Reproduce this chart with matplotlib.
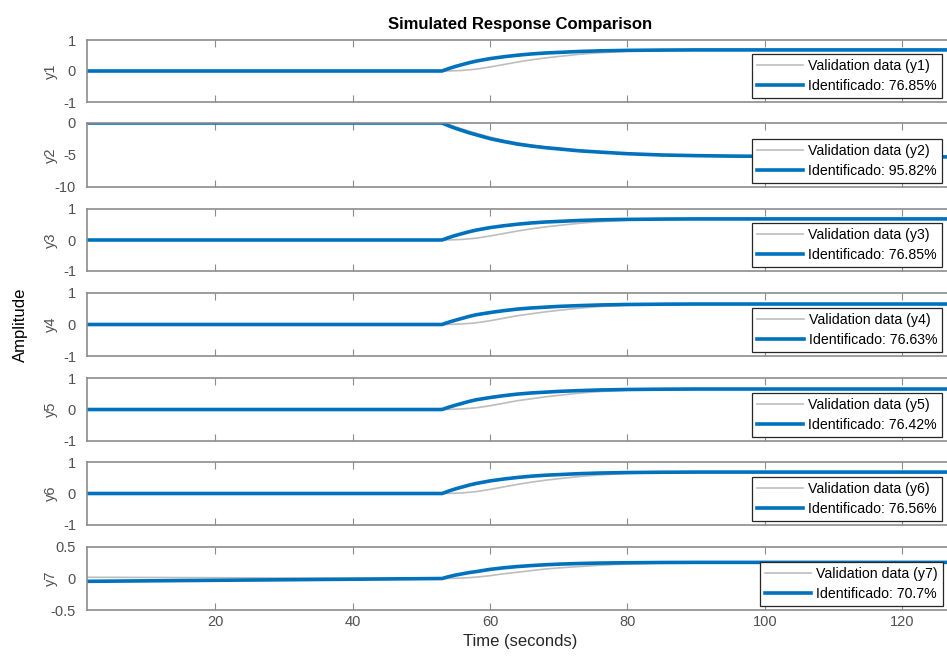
import matplotlib.pyplot as plt

plt.rcParams['font.family'] = ['Liberation Sans', 'DejaVu Sans']

# time samples (seconds)
t = [1, 53, 54, 55, 56, 57, 58, 60, 62, 64, 66, 68, 70, 73, 76, 80, 85, 90, 95, 100, 110, 120, 128]

# measured outputs (validation data)
val_y1 = [0, 0, 0.003, 0.01, 0.02, 0.04, 0.06, 0.13, 0.21, 0.29, 0.36, 0.42, 0.47, 0.54, 0.59, 0.64, 0.665, 0.675, 0.68, 0.68, 0.68, 0.68, 0.68]
val_y2 = [0, 0, -0.25, -0.6, -0.95, -1.3, -1.6, -2.2, -2.7, -3.1, -3.45, -3.75, -3.95, -4.25, -4.5, -4.78, -4.98, -5.1, -5.17, -5.2, -5.25, -5.28, -5.3]
val_y3 = [0, 0, 0.003, 0.01, 0.02, 0.04, 0.06, 0.13, 0.21, 0.29, 0.36, 0.42, 0.47, 0.54, 0.59, 0.64, 0.665, 0.675, 0.68, 0.68, 0.68, 0.68, 0.68]
val_y4 = [0, 0, 0.003, 0.01, 0.02, 0.035, 0.055, 0.12, 0.2, 0.28, 0.34, 0.4, 0.45, 0.52, 0.57, 0.615, 0.64, 0.645, 0.65, 0.65, 0.65, 0.65, 0.65]
val_y5 = [0, 0, 0.003, 0.01, 0.02, 0.035, 0.055, 0.12, 0.2, 0.28, 0.34, 0.4, 0.45, 0.52, 0.57, 0.615, 0.64, 0.645, 0.65, 0.65, 0.65, 0.65, 0.65]
val_y6 = [0, 0, 0.003, 0.01, 0.02, 0.04, 0.06, 0.13, 0.21, 0.29, 0.36, 0.42, 0.47, 0.54, 0.59, 0.64, 0.665, 0.675, 0.68, 0.68, 0.68, 0.68, 0.68]
val_y7 = [0.02, 0, 0.001, 0.004, 0.008, 0.014, 0.022, 0.045, 0.075, 0.1, 0.125, 0.15, 0.168, 0.19, 0.21, 0.232, 0.245, 0.252, 0.255, 0.256, 0.256, 0.256, 0.256]

# simulated model outputs
mod_y1 = [0, 0, 0.08, 0.15, 0.21, 0.27, 0.32, 0.40, 0.46, 0.51, 0.55, 0.58, 0.60, 0.63, 0.65, 0.665, 0.675, 0.68, 0.68, 0.68, 0.68, 0.68, 0.68]
mod_y2 = [0, 0, -0.45, -0.85, -1.2, -1.55, -1.85, -2.45, -2.9, -3.3, -3.6, -3.85, -4.05, -4.35, -4.55, -4.8, -5.0, -5.1, -5.17, -5.2, -5.25, -5.28, -5.3]
mod_y3 = [0, 0, 0.08, 0.15, 0.21, 0.27, 0.32, 0.40, 0.46, 0.51, 0.55, 0.58, 0.60, 0.63, 0.65, 0.665, 0.675, 0.68, 0.68, 0.68, 0.68, 0.68, 0.68]
mod_y4 = [0, 0, 0.075, 0.14, 0.2, 0.26, 0.31, 0.38, 0.44, 0.49, 0.525, 0.55, 0.575, 0.6, 0.62, 0.635, 0.645, 0.65, 0.65, 0.65, 0.65, 0.65, 0.65]
mod_y5 = [0, 0, 0.075, 0.14, 0.2, 0.26, 0.31, 0.38, 0.44, 0.49, 0.525, 0.55, 0.575, 0.6, 0.62, 0.635, 0.645, 0.65, 0.65, 0.65, 0.65, 0.65, 0.65]
mod_y6 = [0, 0, 0.08, 0.15, 0.21, 0.27, 0.32, 0.40, 0.46, 0.51, 0.55, 0.58, 0.60, 0.63, 0.65, 0.665, 0.675, 0.68, 0.68, 0.68, 0.68, 0.68, 0.68]
mod_y7 = [-0.045, 0, 0.03, 0.055, 0.075, 0.095, 0.11, 0.145, 0.17, 0.19, 0.205, 0.218, 0.228, 0.238, 0.245, 0.25, 0.254, 0.256, 0.256, 0.256, 0.256, 0.256, 0.256]

fits = ['76.85%', '95.82%', '76.85%', '76.63%', '76.42%', '76.56%', '70.7%']
names = ['y1', 'y2', 'y3', 'y4', 'y5', 'y6', 'y7']
ylims = [(-1, 1), (-10, 0), (-1, 1), (-1, 1), (-1, 1), (-1, 1), (-0.5, 0.5)]
yticks = [[-1, 0, 1], [-10, -5, 0], [-1, 0, 1], [-1, 0, 1], [-1, 0, 1], [-1, 0, 1], [-0.5, 0, 0.5]]
yticklabels = [['-1', '0', '1'], ['-10', '-5', '0'], ['-1', '0', '1'], ['-1', '0', '1'],
               ['-1', '0', '1'], ['-1', '0', '1'], ['-0.5', '0', '0.5']]

validation = [val_y1, val_y2, val_y3, val_y4, val_y5, val_y6, val_y7]
model = [mod_y1, mod_y2, mod_y3, mod_y4, mod_y5, mod_y6, mod_y7]

# panel rows in pixels (top, bottom)
rows = [(40, 102), (123, 187), (209, 271), (293, 356), (378, 441), (462, 525), (547, 610)]

W, H = 947, 662
fig = plt.figure(figsize=(W / 100, H / 100), dpi=100)

axis_col = '#8c8c8c'
text_col = '#505050'

axes = []
for i in range(7):
    top, bot = rows[i]
    ax = fig.add_axes([87 / W, 1 - bot / H, (953 - 87) / W, (bot - top) / H])
    axes.append(ax)
    ax.plot(t, validation[i], color='#bdbdbd', lw=1.2, label='Validation data (%s)' % names[i])
    ax.plot(t, model[i], color='#0072BD', lw=2.6, label='Identificado: %s' % fits[i])
    ax.set_xlim(1.3, 127.4)
    ax.set_ylim(*ylims[i])
    ax.set_yticks(yticks[i])
    ax.set_yticklabels(yticklabels[i])
    ax.set_xticks([20, 40, 60, 80, 100, 120])
    ax.tick_params(direction='in', top=True, right=False, length=5, color=axis_col,
                   labelcolor=text_col, labelsize=10.5)
    ax.tick_params(axis='y', length=0, pad=8)
    for s in ax.spines.values():
        s.set_color(axis_col)
        s.set_linewidth(1.2)
    ax.set_ylabel(names[i], color=text_col, fontsize=10.5)
    ax.yaxis.set_label_coords(-0.034, 0.5)
    if i < 6:
        ax.set_xticklabels([])
    # legend box anchored in figure pixels, just inside the lower right corner
    leg_right = 942 if i < 6 else 943
    leg = ax.legend(loc='lower right', bbox_to_anchor=(leg_right / W, 1 - (bot - 4) / H),
                    bbox_transform=fig.transFigure,
                    fontsize=10.2, frameon=True, fancybox=False, handlelength=3.3,
                    borderpad=0.35, labelspacing=0.45, handletextpad=0.35, borderaxespad=0.0)
    leg.get_frame().set_edgecolor('#262626')
    leg.get_frame().set_linewidth(0.9)
    leg.get_frame().set_alpha(1)

axes[-1].set_xlabel('Time (seconds)', fontsize=12, color='#262626', labelpad=4)
axes[0].set_title('Simulated Response Comparison', fontsize=12, fontweight='bold', pad=8)
fig.text(20 / W, 1 - 325 / H, 'Amplitude', rotation=90, fontsize=12, ha='center', va='center')

fig.savefig('out.png', dpi=100)
